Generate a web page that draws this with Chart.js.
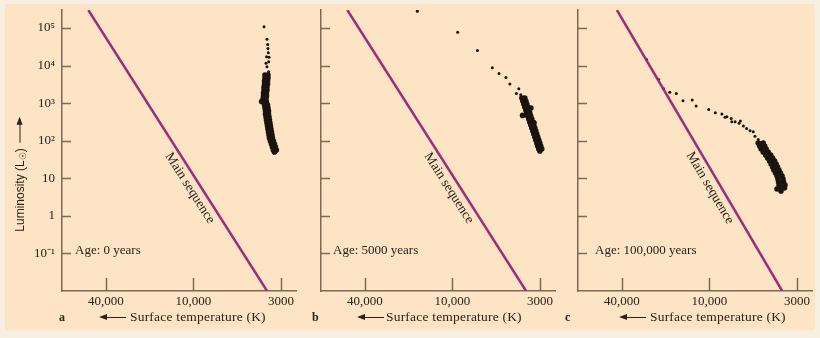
<!DOCTYPE html>
<html>
<head>
<meta charset="utf-8">
<script src="https://cdn.jsdelivr.net/npm/chart.js@4.4.1/dist/chart.umd.min.js"></script>
<style>
  html, body { margin: 0; padding: 0; background: #f8efe3; }
  #page { position: relative; width: 820px; height: 338px; overflow: hidden; background: #f8efe3; }
  #paper { position: absolute; left: 5px; top: 4px; width: 810px; height: 326px; background: #fce4c4; }
  canvas.panel { position: absolute; top: 0; }
  .lbl { position: absolute; font-family: "Liberation Serif", serif; font-size: 13.5px; letter-spacing: 0.2px; color: #2b211b; white-space: nowrap; line-height: 16px; }
  .letter { font-weight: bold; font-size: 12px; letter-spacing: 0; }
  .arr { position: absolute; top: 317px; height: 1.4px; width: 25px; background: #2b211b; }
  .arr::before { content: ""; position: absolute; left: -2px; top: -2.6px; border-right: 8px solid #2b211b; border-top: 3.3px solid transparent; border-bottom: 3.3px solid transparent; }
  #ytitle { position: absolute; left: 20px; top: 175px; transform: translate(-50%, -50%) rotate(-90deg); font-family: "Liberation Sans", Arial, sans-serif; font-size: 12px; color: #2b211b; white-space: nowrap; }
  #ytitle sub { font-size: 9px; vertical-align: -2px; }
  #ytitle .up { display: inline-block; position: relative; width: 24px; height: 1.3px; background: #2b211b; vertical-align: 3px; margin-left: 6px; }
  #ytitle .up::after { content: ""; position: absolute; right: -2px; top: -2.6px; border-left: 8px solid #2b211b; border-top: 3.3px solid transparent; border-bottom: 3.3px solid transparent; }
</style>
</head>
<body>
<div id="page">
  <div id="paper"></div>
  <canvas id="chartA" class="panel" width="300" height="338" style="left:0px"></canvas>
  <canvas id="chartB" class="panel" width="300" height="338" style="left:259px"></canvas>
  <canvas id="chartC" class="panel" width="300" height="338" style="left:516px"></canvas>

  <div id="ytitle">Luminosity (L<sub>☉</sub>)<span class="up"></span></div>

  <div class="lbl letter" style="left:59px; top:309px">a</div>
  <div class="arr" style="left:101px"></div>
  <div class="lbl" style="left:130px; top:309px">Surface temperature (K)</div>

  <div class="lbl letter" style="left:312px; top:309px">b</div>
  <div class="arr" style="left:359px"></div>
  <div class="lbl" style="left:386px; top:309px">Surface temperature (K)</div>

  <div class="lbl letter" style="left:565px; top:309px">c</div>
  <div class="arr" style="left:621px"></div>
  <div class="lbl" style="left:650px; top:309px">Surface temperature (K)</div>
</div>

<script>
// Axis ticks (x is the position along the drawn temperature axis: 1 = 40,000 K, 2 = 10,000 K, 3 = 3000 K)
const tempTickPos = [1, 2, 3];
const tempTickLabels = ['40,000', '10,000', '3000'];
const lumTicks = [0.1, 1, 10, 100, 1000, 10000, 100000];
const lumTickLabels = ['10\u207B\u00B9', '1', '10', '10\u00B2', '10\u00B3', '10\u2074', '10\u2075'];
const ageLabels = ['Age: 0 years', 'Age: 5000 years', 'Age: 100,000 years'];

// Main sequence line (end points)
const msA_t = [0.80, 2.84];
const msA_L = [300000, 0.01];
const msB_t = [0.80, 2.84];
const msB_L = [300000, 0.01];
const msC_t = [0.944, 2.83];
const msC_L = [300000, 0.01];

// Panel a - age 0
const sparseA_t = [2.805, 2.839, 2.847, 2.850, 2.854, 2.834, 2.858, 2.839, 2.858, 2.862, 2.828];
const sparseA_L = [107000, 50000, 36000, 28500, 22000, 17000, 12500, 9200, 6800, 16500, 11500];
const clusterA_t = [2.816, 2.850, 2.811, 2.845, 2.805, 2.839, 2.799, 2.833, 2.794, 2.833, 2.811, 2.850, 2.822, 2.856,
                    2.828, 2.867, 2.839, 2.878, 2.850, 2.890, 2.862, 2.901, 2.878, 2.924, 2.901, 2.946, 2.924, 2.777,
                    2.850, 2.816, 2.845, 2.811, 2.839, 2.805, 2.833, 2.799, 2.828, 2.799, 2.845, 2.816, 2.856,
                    2.822, 2.862, 2.833, 2.873, 2.845, 2.884, 2.856, 2.896, 2.867, 2.912, 2.890, 2.935, 2.912];
const clusterA_L = [5560, 4630, 3850, 3200, 2670, 2220, 1850, 1535, 1280, 1064, 885, 736, 612, 510,
                    424, 353, 294, 244, 204, 169, 141, 117, 97.6, 81.2, 67.6, 56.2, 49.8, 1100,
                    5560, 4630, 3850, 3200, 2670, 2220, 1850, 1535, 1280, 1064, 885, 736, 612,
                    510, 424, 353, 294, 244, 204, 169, 141, 117, 97.6, 81.2, 67.6, 56.2];

// Panel b - age 5000 years
const sparseB_t = [1.599, 2.059, 2.285, 2.455, 2.531, 2.610, 2.655, 2.757, 2.729, 2.779];
const sparseB_L = [280000, 77000, 25200, 8690, 6170, 4830, 3200, 2400, 1810, 1660];
const clusterB_t = [2.792, 2.837, 2.814, 2.859, 2.837, 2.882, 2.859, 2.905, 2.882, 2.928, 2.906, 2.951, 2.928,
                    2.973, 2.951, 2.996, 2.973, 3.019, 2.997, 2.895, 2.800, 2.930,
                    2.825, 2.803, 2.848, 2.825, 2.871, 2.848, 2.893, 2.871, 2.916, 2.894, 2.940, 2.917,
                    2.962, 2.940, 2.985, 2.962, 3.007, 2.985];
const clusterB_L = [1358, 1130, 940, 783, 651, 542, 451, 375, 312, 260, 216, 180, 150,
                    125, 104, 86.3, 71.8, 59.8, 52.9, 736, 470, 300,
                    1358, 1130, 940, 783, 651, 542, 451, 375, 312, 260, 216, 180,
                    150, 125, 104, 86.3, 71.8, 59.8];

// Panel c - age 100,000 years
const sparseC_t = [1.283, 1.419, 1.475, 1.547, 1.622, 1.698, 1.803, 1.848, 1.991, 2.067, 2.142, 2.198, 2.248,
                   2.293, 2.338, 2.387, 2.424, 2.463, 2.500, 2.519, 2.557, 2.576, 2.178, 2.255, 2.353];
const sparseC_L = [14500, 4270, 2460, 1930, 1810, 1150, 1200, 832, 679, 552, 509, 432, 392,
                   318, 289, 245, 212, 183, 172, 132, 108, 88, 417, 318, 332];
const clusterC_t = [2.556, 2.630, 2.590, 2.669, 2.641, 2.720, 2.686, 2.760, 2.720, 2.792, 2.754, 2.828, 2.782,
                    2.845, 2.794, 2.856, 2.771, 2.862, 2.816, 2.726,
                    2.613, 2.573, 2.647, 2.613, 2.698, 2.664, 2.743, 2.703, 2.777, 2.735, 2.811, 2.771,
                    2.839, 2.788, 2.850, 2.799];
const clusterC_L = [86.3, 71.8, 59.8, 49.8, 41.4, 34.5, 28.7, 23.9, 19.9, 16.5, 13.7, 11.5, 9.52,
                    7.93, 6.60, 5.49, 5.16, 6.60, 4.57, 30.5,
                    86.3, 71.8, 59.8, 49.8, 41.4, 34.5, 28.7, 23.9, 19.9, 16.5, 13.7, 11.5,
                    9.52, 7.93, 6.60, 5.49];

const axisColor = '#7b6a58';
const textColor = '#2b211b';
const msColor = '#9e2d7c';
const dotColor = '#1a1410';
const serif = '"Liberation Serif", "Times New Roman", serif';

const toPoints = (t, L) => t.map((v, i) => ({ x: v, y: L[i] }));

// draws inward tick marks, the "Main sequence" label and the age label
function makeDecor(panel) {
  return {
    id: 'decor',
    afterDraw(chart) {
      const { ctx, chartArea: a, scales: { x, y } } = chart;
      ctx.save();
      ctx.strokeStyle = axisColor;
      ctx.lineWidth = 1.5;
      ctx.beginPath();
      x.ticks.forEach(t => {
        const px = Math.round(x.getPixelForValue(t.value)) + 0.5;
        ctx.moveTo(px, a.bottom);
        ctx.lineTo(px, a.bottom - 13);
      });
      y.ticks.forEach(t => {
        const py = Math.round(y.getPixelForValue(t.value)) + 0.5;
        ctx.moveTo(a.left, py);
        ctx.lineTo(a.left + 9, py);
      });
      ctx.stroke();

      // Main sequence label along the line
      const x0 = x.getPixelForValue(panel.msT[0]), y0 = y.getPixelForValue(panel.msL[0]);
      const x1 = x.getPixelForValue(panel.msT[1]), y1 = y.getPixelForValue(panel.msL[1]);
      const ang = Math.atan2(y1 - y0, x1 - x0);
      const f = 0.615;
      const cx = x0 + (x1 - x0) * f - Math.sin(ang) * 10;
      const cy = y0 + (y1 - y0) * f + Math.cos(ang) * 10;
      ctx.fillStyle = textColor;
      ctx.font = '13.5px ' + serif;
      ctx.save();
      ctx.translate(cx, cy);
      ctx.rotate(ang);
      ctx.textAlign = 'center';
      ctx.textBaseline = 'middle';
      ctx.fillText('Main sequence', 0, 0);
      ctx.restore();

      // age label on the 10^-1 line
      ctx.font = '13px ' + serif;
      ctx.textAlign = 'left';
      ctx.textBaseline = 'alphabetic';
      ctx.fillText(panel.age, a.left + panel.ageDx, y.getPixelForValue(0.1) + 1);
      ctx.restore();
    }
  };
}

const panels = [
  { id: 'chartA', msT: msA_t, msL: msA_L, sT: sparseA_t, sL: sparseA_L, cT: clusterA_t, cL: clusterA_L, age: ageLabels[0], ageDx: 13, showY: true, padRight: 2 },
  { id: 'chartB', msT: msB_t, msL: msB_L, sT: sparseB_t, sL: sparseB_L, cT: clusterB_t, cL: clusterB_L, age: ageLabels[1], ageDx: 12, showY: false, padRight: 2 },
  { id: 'chartC', msT: msC_t, msL: msC_L, sT: sparseC_t, sL: sparseC_L, cT: clusterC_t, cL: clusterC_L, age: ageLabels[2], ageDx: 17, showY: false, padRight: 4 }
];

panels.forEach(p => {
  new Chart(document.getElementById(p.id), {
    type: 'scatter',
    data: {
      datasets: [{
        type: 'line',
        data: toPoints(p.msT, p.msL),
        borderColor: msColor,
        borderWidth: 2.5,
        pointRadius: 0,
        fill: false
      }, {
        data: toPoints(p.sT, p.sL),
        pointRadius: 1.5,
        borderWidth: 0,
        backgroundColor: dotColor
      }, {
        data: toPoints(p.cT, p.cL),
        pointRadius: 2.8,
        borderWidth: 0,
        backgroundColor: dotColor
      }]
    },
    options: {
      responsive: false,
      animation: false,
      devicePixelRatio: 1,
      layout: { padding: { left: 0, top: 10, right: p.padRight, bottom: 17 } },
      plugins: { legend: { display: false }, tooltip: { enabled: false } },
      scales: {
        x: {
          type: 'linear',
          min: 0.5,
          max: 3.17,
          grid: { display: false, drawTicks: false },
          border: { color: axisColor, width: 1.5 },
          afterBuildTicks: s => { s.ticks = tempTickPos.map(v => ({ value: v })); },
          afterFit: s => { s.height = 30; s.paddingLeft = 0; s.paddingRight = 0; },
          ticks: {
            padding: 3,
            color: textColor,
            font: { family: serif, size: 13 },
            maxRotation: 0,
            callback: v => tempTickLabels[tempTickPos.indexOf(v)]
          }
        },
        y: {
          type: 'logarithmic',
          min: 0.01,
          max: 300000,
          grid: { display: false, drawTicks: false },
          border: { color: axisColor, width: 1.5 },
          afterBuildTicks: s => { s.ticks = lumTicks.map(v => ({ value: v })); },
          afterFit: s => { s.width = 62; s.paddingTop = 0; s.paddingBottom = 0; },
          ticks: {
            display: p.showY,
            padding: 7,
            color: textColor,
            font: { family: serif, size: 13 },
            callback: v => lumTickLabels[lumTicks.indexOf(v)]
          }
        }
      }
    },
    plugins: [makeDecor(p)]
  });
});
</script>
</body>
</html>
